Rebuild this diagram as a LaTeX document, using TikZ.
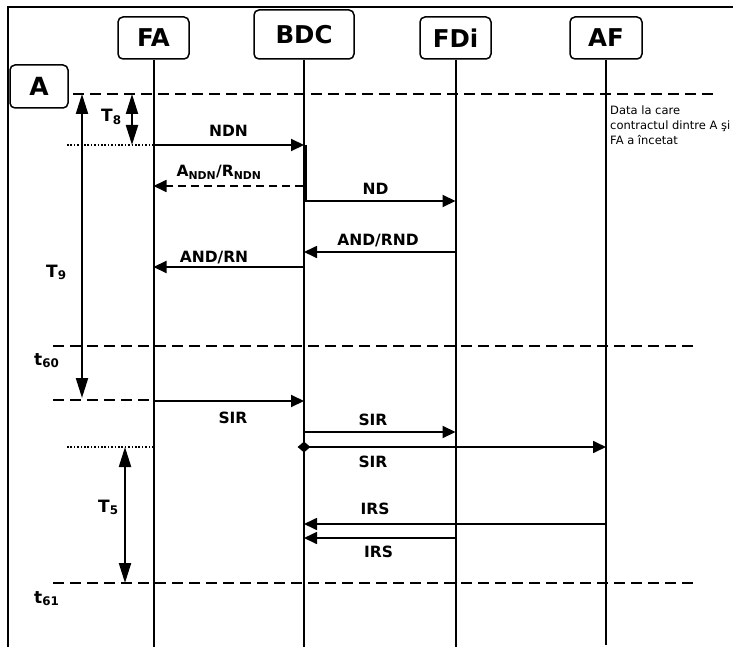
\documentclass[tikz,border=0pt]{standalone}
\usepackage{fontspec}
\setmainfont{DejaVu Sans}
\usetikzlibrary{arrows.meta,shapes.geometric}
\tikzset{
  actor/.style={draw, line width=1.5pt, rounded corners=5pt, inner sep=0pt, font=\fontsize{24.5}{26}\selectfont\bfseries},
  life/.style={line width=2pt},
  frameline/.style={line width=2.4pt},
  tline/.style={line width=2.1pt, dash pattern=on 11pt off 6pt},
  dotline/.style={line width=2pt, dash pattern=on 1.6pt off 1.8pt},
  msg/.style={line width=2.1pt, -{Triangle[length=13pt,width=12pt]}},
  thinmsg/.style={line width=1.7pt, -{Triangle[length=13pt,width=12pt]}},
  dmsg/.style={line width=1.7pt, dash pattern=on 8pt off 5pt, -{Triangle[length=13pt,width=12pt]}},
  span/.style={line width=2.1pt, {Triangle[length=20pt,width=12pt]}-{Triangle[length=20pt,width=12pt]}},
  lbl/.style={font=\fontsize{15.5}{17}\selectfont\bfseries, anchor=base, inner sep=0pt},
  tlbl/.style={font=\fontsize{17}{19}\selectfont\bfseries, anchor=base west, inner sep=0pt},
  note/.style={font=\fontsize{11.5}{15}\selectfont, anchor=north west, align=left, inner sep=0pt}
}
\begin{document}
\begin{tikzpicture}[x=1pt,y=-1pt]
\useasboundingbox (0,0) rectangle (733,647);
% frame
\coordinate (fbl) at (8,648);
\coordinate (ftl) at (8,7);
\coordinate (ftr) at (734,7);
\draw[frameline] (fbl) -- (ftl) -- (ftr);
% actors
\node[actor, minimum width=71, minimum height=42] (FA) at (153.5,38) {FA};
\node[actor, minimum width=100, minimum height=49] (BDC) at (304,34.5) {BDC};
\node[actor, minimum width=71, minimum height=42] (FDi) at (455.5,38) {FDi};
\node[actor, minimum width=72, minimum height=42] (AF) at (606,38) {AF};
\node[actor, minimum width=58, minimum height=43, font=\fontsize{25}{27}\selectfont\bfseries] (A) at (39,86.5) {A};
% lifeline ends
\coordinate (FAend) at (153.5,648);
\coordinate (BDCend) at (304,648);
\coordinate (FDiend) at (455.5,648);
\coordinate (AFend) at (606,645);
\draw[life] (FA.south) -- (FAend);
\draw[life] (BDC.south) -- (BDCend);
\draw[life] (FDi.south) -- (FDiend);
\draw[life] (AF.south) -- (AFend);
% time lines
\coordinate (d1a) at (73,94);   \coordinate (d1b) at (716,94);
\coordinate (d2a) at (53,346);  \coordinate (d2b) at (696,346);
\coordinate (d3a) at (53,400);  \coordinate (d3b) at (153.5,400);
\coordinate (d4a) at (53,583);  \coordinate (d4b) at (696,583);
\coordinate (p1a) at (67,145);  \coordinate (p1b) at (153.5,145);
\coordinate (p2a) at (67,447);  \coordinate (p2b) at (153.5,447);
\draw[tline] (d1a) -- (d1b);
\draw[tline] (d2a) -- (d2b);
\draw[tline] (d3a) -- (d3b);
\draw[tline] (d4a) -- (d4b);
\draw[dotline] (p1a) -- (p1b);
\draw[dotline] (p2a) -- (p2b);
% spans
\coordinate (t8a) at (132,94);  \coordinate (t8b) at (132,145);
\coordinate (t9a) at (82,94);   \coordinate (t9b) at (82,398);
\coordinate (t5a) at (125,447); \coordinate (t5b) at (125,583);
\draw[span] (t8a) -- (t8b);
\draw[span] (t9a) -- (t9b);
\draw[span] (t5a) -- (t5b);
\node[tlbl] (T8) at (101,122) {T\textsubscript{8}};
\node[tlbl] (T9) at (46,277) {T\textsubscript{9}};
\node[tlbl] (t60) at (34,365) {t\textsubscript{60}};
\node[tlbl] (T5) at (98,512) {T\textsubscript{5}};
\node[tlbl] (t61) at (34,603) {t\textsubscript{61}};
% activation
\coordinate (act1) at (305,145);
\coordinate (act2) at (305,201);
\draw[line width=3.8pt] (act1) -- (act2);
% messages
\coordinate (m1a) at (153.5,145); \coordinate (m1b) at (304,145);
\coordinate (m2a) at (303,186);   \coordinate (m2b) at (153.5,186);
\coordinate (m3a) at (304,201);   \coordinate (m3b) at (455.5,201);
\coordinate (m4a) at (455.5,252); \coordinate (m4b) at (304,252);
\coordinate (m5a) at (304,267);   \coordinate (m5b) at (153.5,267);
\coordinate (m6a) at (153.5,401); \coordinate (m6b) at (304,401);
\coordinate (m7a) at (304,432);   \coordinate (m7b) at (455.5,432);
\coordinate (m8a) at (304,447);   \coordinate (m8b) at (606,447);
\coordinate (m9a) at (606,524);   \coordinate (m9b) at (304,524);
\coordinate (m10a) at (455.5,538);\coordinate (m10b) at (304,538);
\draw[msg] (m1a) -- (m1b);
\draw[dmsg] (m2a) -- (m2b);
\draw[msg] (m3a) -- (m3b);
\draw[thinmsg] (m4a) -- (m4b);
\draw[msg] (m5a) -- (m5b);
\draw[msg] (m6a) -- (m6b);
\draw[msg] (m7a) -- (m7b);
\draw[thinmsg] (m8a) -- (m8b);
\node[diamond, fill, inner sep=0pt, minimum width=13pt, minimum height=11pt] (dia) at (m8a) {};
\draw[thinmsg] (m9a) -- (m9b);
\draw[thinmsg] (m10a) -- (m10b);
% labels
\node[lbl] (lNDN) at (228.5,137) {NDN};
\node[lbl] (lANDN) at (219,177) {A\textsubscript{NDN}/R\textsubscript{NDN}};
\node[lbl] (lND) at (375.5,194) {ND};
\node[lbl] (lAR) at (378,245) {AND/RND};
\node[lbl] (lARN) at (214,262) {AND/RN};
\node[lbl] (lS1) at (233,423) {SIR};
\node[lbl] (lS2) at (373,425) {SIR};
\node[lbl] (lS3) at (373,467) {SIR};
\node[lbl] (lI1) at (375,514) {IRS};
\node[lbl] (lI2) at (378.5,557) {IRS};
\node[note] (note) at (610,106) {Data la care\\contractul dintre A şi\\FA a încetat};
\end{tikzpicture}
\end{document}
